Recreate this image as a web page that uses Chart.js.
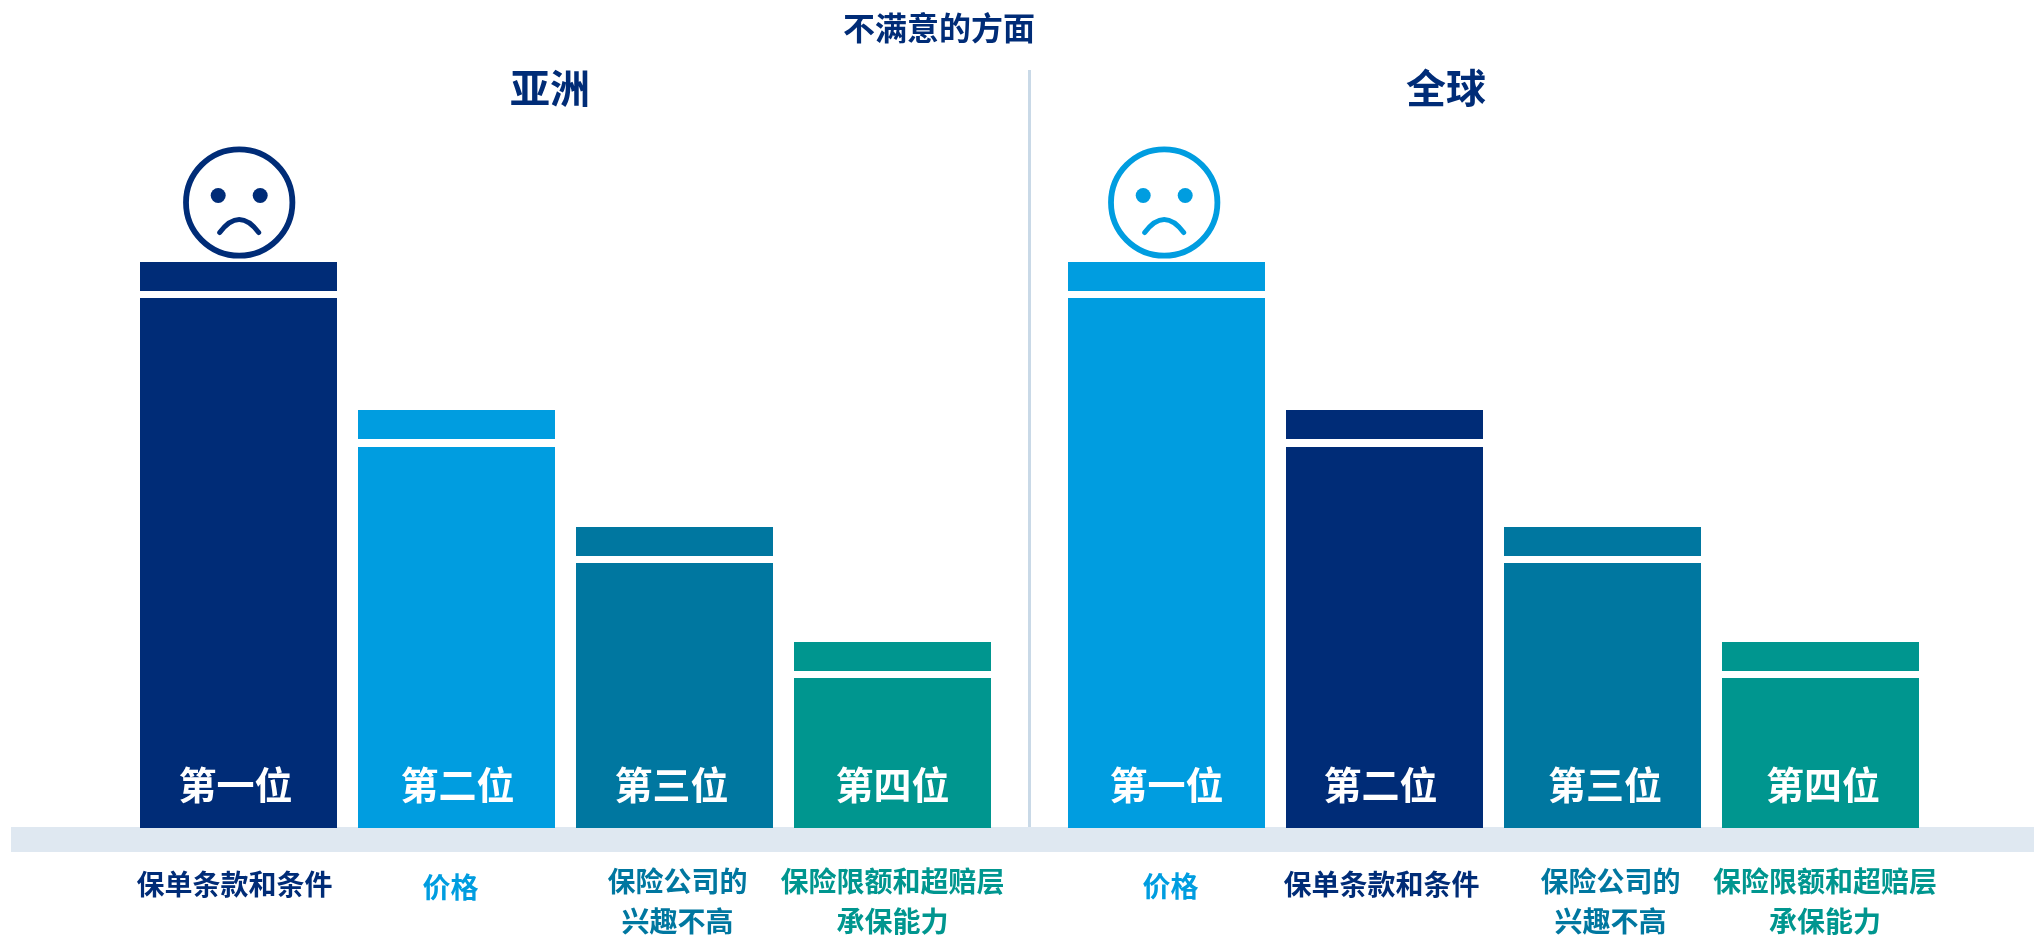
<!DOCTYPE html>
<html>
<head>
<meta charset="utf-8">
<style>
  html, body { margin: 0; background: #fff; }
  #wrap { position: relative; width: 2034px; height: 936px; overflow: hidden; }
  canvas { position: absolute; left: 0; top: 0; }
</style>
<script src="https://cdn.jsdelivr.net/npm/chart.js@4/dist/chart.umd.js"></script>
</head>
<body>
<div id="wrap">
  <canvas id="asiaChart" width="2034" height="936"></canvas>
  <canvas id="globalChart" width="2034" height="936"></canvas>
</div>
<script>
var mainTitle = '不满意的方面';
var ranks = ['第一位', '第二位', '第三位', '第四位'];

var asiaTitle = '亚洲';
var asiaCategories = [['保单条款和条件'], ['价格'], ['保险公司的', '兴趣不高'], ['保险限额和超赔层', '承保能力']];
var asiaBody = [530, 381, 265, 150];
var asiaGap = [7, 8, 7, 7];
var asiaCap = [29, 29, 29, 29];

var globalTitle = '全球';
var globalCategories = [['价格'], ['保单条款和条件'], ['保险公司的', '兴趣不高'], ['保险限额和超赔层', '承保能力']];
var globalBody = [530, 381, 265, 150];
var globalGap = [7, 8, 7, 7];
var globalCap = [29, 29, 29, 29];

var navy = '#002C77', sky = '#009DE0', ocean = '#0077A0', teal = '#00968F';
var asiaColors = [navy, sky, ocean, teal];
var globalColors = [sky, navy, ocean, teal];

var fontFamily = '"Noto Sans CJK SC", "Noto Sans", sans-serif';

function drawText(ctx, text, x, y, size, color) {
  ctx.font = 'bold ' + size + 'px ' + fontFamily;
  ctx.fillStyle = color;
  ctx.textAlign = 'center';
  ctx.textBaseline = 'middle';
  ctx.fillText(text, x, y);
}

function drawFace(ctx, cx, cy, color) {
  ctx.strokeStyle = color;
  ctx.fillStyle = color;
  ctx.lineWidth = 5.8;
  ctx.beginPath();
  ctx.arc(cx, cy, 53.2, 0, Math.PI * 2);
  ctx.stroke();
  [-21, 21].forEach(function (dx) {
    ctx.beginPath();
    ctx.arc(cx + dx, cy - 7, 7.5, 0, Math.PI * 2);
    ctx.fill();
  });
  ctx.lineWidth = 5;
  ctx.lineCap = 'round';
  ctx.beginPath();
  ctx.moveTo(cx - 19.5, cy + 30);
  ctx.quadraticCurveTo(cx, cy + 4, cx + 19.5, cy + 30);
  ctx.stroke();
}

// band, divider, labels under the bars and inside them
var panelText = {
  id: 'panelText',
  beforeDatasetsDraw: function (chart, args, o) {
    if (!o.decor) return;
    var ctx = chart.ctx;
    ctx.save();
    ctx.fillStyle = '#DFE8F1';
    ctx.fillRect(11, 827, 2023, 25);
    ctx.fillStyle = '#C9D9E7';
    ctx.fillRect(1028, 70, 3, 757);
    ctx.restore();
  },
  afterDatasetsDraw: function (chart, args, o) {
    var ctx = chart.ctx, x = chart.scales.x;
    ctx.save();
    if (o.mainTitle) drawText(ctx, o.mainTitle, 939, 28, 32, navy);
    drawText(ctx, o.title, o.titleX, 88, 40, navy);
    drawFace(ctx, x.getPixelForTick(0) + o.faceDx, 202.5, o.colors[0]);
    chart.data.labels.forEach(function (lines, i) {
      var cx = x.getPixelForTick(i);
      drawText(ctx, ranks[i], cx + o.rankDx[i], 785, 38, '#fff');
      var y = o.labelY[i];
      lines.forEach(function (line, n) {
        drawText(ctx, line, cx + o.labelDx[i], y + n * 40, 28, o.colors[i]);
      });
    });
    ctx.restore();
  }
};

function makeChart(id, categories, body, gap, cap, colors, left, right, text) {
  return new Chart(document.getElementById(id), {
    type: 'bar',
    plugins: [panelText],
    data: {
      labels: categories,
      datasets: [
        { data: body, backgroundColor: colors },
        { data: gap, backgroundColor: 'rgba(0,0,0,0)' },
        { data: cap, backgroundColor: colors }
      ]
    },
    options: {
      responsive: false,
      animation: false,
      layout: { padding: { left: left, right: right, top: 60, bottom: 108 } },
      datasets: { bar: { barPercentage: 197 / 218, categoryPercentage: 1 } },
      scales: {
        x: { display: false, stacked: true },
        y: { display: false, stacked: true, min: 0, max: 768 }
      },
      plugins: {
        legend: { display: false },
        tooltip: { enabled: false },
        panelText: text
      }
    }
  });
}

makeChart('asiaChart', asiaCategories, asiaBody, asiaGap, asiaCap, asiaColors, 129.5, 1032.5, {
  decor: true,
  mainTitle: mainTitle,
  title: asiaTitle,
  titleX: 550,
  colors: asiaColors,
  faceDx: 0.7,
  rankDx: [-3, 1, -3, 0],
  labelDx: [-4, -6, 3, 0],
  labelY: [884, 887, 881.5, 881.5]
});

makeChart('globalChart', globalCategories, globalBody, globalGap, globalCap, globalColors, 1057.5, 104.5, {
  decor: false,
  title: globalTitle,
  titleX: 1446,
  colors: globalColors,
  faceDx: -2.3,
  rankDx: [0, -4, 2.5, 2.5],
  labelDx: [4, -3, 8, 4.5],
  labelY: [886, 884, 881.5, 881.5]
});
</script>
</body>
</html>
